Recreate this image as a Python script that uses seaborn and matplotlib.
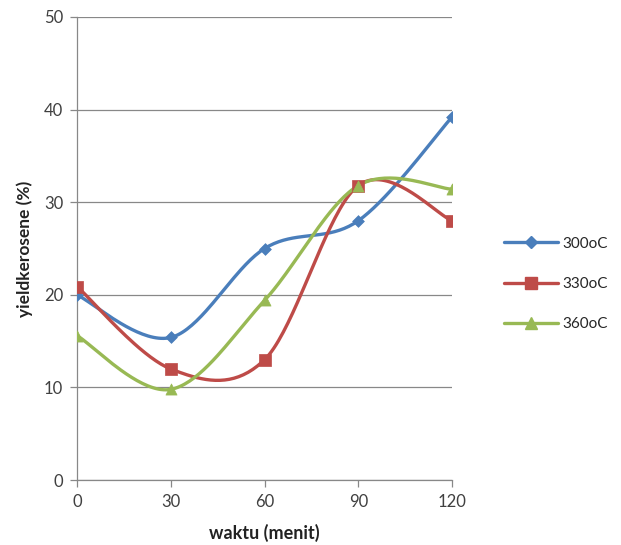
import numpy as np
import pandas as pd
import matplotlib
matplotlib.use("Agg")
import matplotlib.pyplot as plt
from matplotlib.lines import Line2D
import seaborn as sns

waktu = [0, 30, 60, 90, 120]
y300 = [20.0, 15.4, 25.0, 28.0, 39.2]
y330 = [20.9, 12.0, 13.0, 31.8, 28.0]
y360 = [15.6, 9.8, 19.4, 31.8, 31.4]
labels = ["300oC", "330oC", "360oC"]
colors = ["#4A7EBB", "#BE4B48", "#98B954"]
markers = ["D", "s", "^"]
msizes = [6, 8, 8]

sns.set_theme(style="white")
plt.rcParams['font.family'] = ['Lato', 'DejaVu Sans']


def smooth(x, y, n=40):
    x = np.asarray(x, float); y = np.asarray(y, float)
    P = np.column_stack([x, y])
    out = []
    for i in range(len(P) - 1):
        p0 = P[i - 1] if i > 0 else P[i]
        p1 = P[i]; p2 = P[i + 1]
        p3 = P[i + 2] if i + 2 < len(P) else P[i + 1]
        c1 = p1 + (p2 - p0) / 6.0
        c2 = p2 - (p3 - p1) / 6.0
        t = np.linspace(0, 1, n, endpoint=(i == len(P) - 2))[:, None]
        b = (1 - t) ** 3 * p1 + 3 * (1 - t) ** 2 * t * c1 + 3 * (1 - t) * t ** 2 * c2 + t ** 3 * p2
        out.append(b)
    b = np.vstack(out)
    return b[:, 0], b[:, 1]

fig = plt.figure(figsize=(6.21, 5.45), dpi=100)
ax = fig.add_axes([0.124, 0.119, 0.604, 0.850])

handles = []
for ys, lab, c, m, ms in zip([y300, y330, y360], labels, colors, markers, msizes):
    sx, sy = smooth(waktu, ys)
    df = pd.DataFrame({"x": sx, "y": sy})
    sns.lineplot(data=df, x="x", y="y", ax=ax, color=c, linewidth=2.4, sort=False, legend=False)
    dp = pd.DataFrame({"x": waktu, "y": ys})
    sns.scatterplot(data=dp, x="x", y="y", ax=ax, color=c, marker=m, s=ms ** 2, edgecolor=c, linewidth=0.5, zorder=3, legend=False)
    handles.append(Line2D([0], [0], color=c, lw=2.4, marker=m, markersize=ms, markeredgecolor=c, label=lab))

ax.set_xlim(0, 120)
ax.set_ylim(0, 50)
ax.set_xticks(waktu)
ax.set_yticks([0, 10, 20, 30, 40, 50])
ax.grid(axis="y", color="#888888", linewidth=0.9)
ax.grid(axis="x", visible=False)
for s in ["top", "right"]:
    ax.spines[s].set_visible(False)
for s in ["left", "bottom"]:
    ax.spines[s].set_color("#888888")
    ax.spines[s].set_linewidth(0.9)
ax.tick_params(axis="both", which="both", direction="out", length=5, width=0.9, color="#888888",
               labelsize=12, labelcolor="#404040", left=True, bottom=True, pad=5)
ax.set_xlabel("waktu (menit)", fontsize=13, fontweight="bold", color="#222222", labelpad=10)
ax.set_ylabel("yieldkerosene (%)", fontsize=12.5, fontweight="bold", color="#222222", labelpad=8)
ax.set_axisbelow(True)

fig.legend(handles=handles, loc="center left", bbox_to_anchor=(0.79, 0.479), frameon=False,
           fontsize=11, handlelength=3.5, labelspacing=1.72, handletextpad=0.3)

fig.savefig("out.png", dpi=100)
